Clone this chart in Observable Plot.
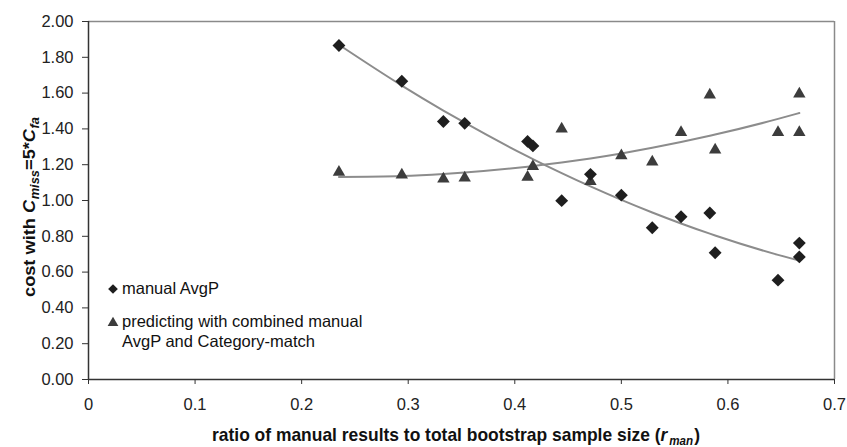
<!DOCTYPE html>
<html>
<head>
<meta charset="utf-8">
<script src="https://cdn.jsdelivr.net/npm/d3@7"></script>
<script src="https://cdn.jsdelivr.net/npm/@observablehq/plot@0.6"></script>
<style>
  html, body { margin: 0; padding: 0; background: #fff; }
  svg { display: block; }
</style>
</head>
<body>
<div id="chart"></div>
<script>
// ---- data ----
const rMan = [0.235, 0.294, 0.333, 0.353, 0.412, 0.417, 0.444, 0.471, 0.5, 0.529, 0.556, 0.583, 0.588, 0.647, 0.667, 0.667];
const manualAvgP = [1.866, 1.666, 1.441, 1.431, 1.330, 1.305, 0.999, 1.146, 1.030, 0.848, 0.909, 0.930, 0.708, 0.555, 0.762, 0.685];
const combined = [1.158, 1.143, 1.120, 1.126, 1.131, 1.190, 1.400, 1.107, 1.250, 1.215, 1.380, 1.590, 1.283, 1.380, 1.595, 1.380];
const seriesNames = ["manual AvgP", "predicting with combined manual AvgP and Category-match"];
const xTicks = [0, 0.1, 0.2, 0.3, 0.4, 0.5, 0.6, 0.7];
const yTicks = [0, 0.2, 0.4, 0.6, 0.8, 1.0, 1.2, 1.4, 1.6, 1.8, 2.0];

const manualRows = rMan.map((x, i) => ({x, y: manualAvgP[i]}));
const combinedRows = rMan.map((x, i) => ({x, y: combined[i]}));

// 2nd-order polynomial trendline (least squares), evaluated at the data's own x values
function quadFit(rows) {
  const S = [0,0,0,0,0], T = [0,0,0];
  for (const {x, y} of rows) {
    for (let k = 0; k < 5; k++) S[k] += Math.pow(x, k);
    for (let k = 0; k < 3; k++) T[k] += y * Math.pow(x, k);
  }
  const A = [[S[0],S[1],S[2],T[0]],[S[1],S[2],S[3],T[1]],[S[2],S[3],S[4],T[2]]];
  for (let i = 0; i < 3; i++) {
    let p = i; for (let r = i+1; r < 3; r++) if (Math.abs(A[r][i]) > Math.abs(A[p][i])) p = r;
    [A[i], A[p]] = [A[p], A[i]];
    for (let r = 0; r < 3; r++) if (r !== i) {
      const f = A[r][i] / A[i][i];
      for (let c = i; c < 4; c++) A[r][c] -= f * A[i][c];
    }
  }
  const c = [A[0][3]/A[0][0], A[1][3]/A[1][1], A[2][3]/A[2][2]];
  const xs = Array.from(new Set(rows.map(d => d.x))).sort((a, b) => a - b);
  return xs.map(x => ({x, y: c[0] + c[1]*x + c[2]*x*x}));
}
const manualTrend = quadFit(manualRows);
const combinedTrend = quadFit(combinedRows);

const FONT = "'Liberation Sans', Arial, Helvetica, sans-serif";

const chart = Plot.plot({
  width: 847,
  height: 447,
  marginLeft: 88,
  marginRight: 13,
  marginTop: 21,
  marginBottom: 68,
  style: {fontFamily: FONT, fontSize: "16.5px", color: "#222", background: "#fff"},
  x: {domain: [0, 0.7]},
  y: {domain: [0, 2]},
  marks: [
    Plot.ruleY([2], {stroke: "#8a8a8a", strokeWidth: 1.5}),
    Plot.ruleX([0.7], {stroke: "#8a8a8a", strokeWidth: 1.5}),
    Plot.ruleX([0], {stroke: "#333", strokeWidth: 1.5}),
    Plot.ruleY([0], {stroke: "#333", strokeWidth: 1.5}),
    Plot.axisY({ticks: yTicks, tickFormat: d3.format(".2f"), tickSize: 6, tickPadding: 9, label: null, fontSize: 16.5, stroke: "#333"}),
    Plot.axisX({ticks: xTicks, tickFormat: d => d === 0 ? "0" : d3.format(".1f")(d), tickSize: 5, tickPadding: 14, label: null, fontSize: 16.5, stroke: "#333"}),
    Plot.line(manualTrend, {x: "x", y: "y", stroke: "#8c8c8c", strokeWidth: 2, curve: "monotone-x"}),
    Plot.line(combinedTrend, {x: "x", y: "y", stroke: "#8c8c8c", strokeWidth: 2, curve: "monotone-x"}),
    Plot.dot(combinedRows, {x: "x", y: "y", symbol: "triangle", r: 4.6, fill: "#3c3c3c", stroke: "none"}),
    Plot.dot(manualRows, {x: "x", y: "y", symbol: "diamond2", r: 5.8, fill: "#1e1e1e", stroke: "none"})
  ]
});

document.getElementById("chart").appendChild(chart);

const svg = d3.select(chart);

// Build a title from separate pieces laid out left to right, then scale to a target width
function pieceTitle(transform, pieces, targetWidth) {
  const g = svg.append("g")
    .attr("font-family", FONT).attr("font-weight", "bold")
    .attr("fill", "#111").attr("text-anchor", "start");
  const inner = g.append("g");
  let x = 0;
  for (const p of pieces) {
    const t = inner.append("text")
      .attr("x", x).attr("y", p.dy || 0)
      .attr("font-size", p.size)
      .attr("font-style", p.italic ? "italic" : "normal")
      .text(p.text);
    x += t.node().getComputedTextLength() + (p.gap || 0);
  }
  const s = targetWidth / x;
  g.attr("transform", transform);
  inner.attr("transform", `scale(${s},1)`);
}

pieceTitle("translate(212,441)", [
  {text: "ratio of manual results to total bootstrap sample size (", size: 18},
  {text: "r", size: 18, italic: true, gap: 2},
  {text: "man", size: 12, italic: true, dy: 4, gap: 1},
  {text: ")", size: 18}
], 488);

pieceTitle("translate(35,297) rotate(-90)", [
  {text: "cost with ", size: 17},
  {text: "C", size: 17, italic: true, gap: 0.5},
  {text: "miss", size: 12, italic: true, dy: 4},
  {text: "=5*", size: 17},
  {text: "C", size: 17, italic: true, gap: 0.5},
  {text: "fa", size: 12, italic: true, dy: 4}
], 180);

// Legend (inside plot area, lower left)
const lg = svg.append("g").attr("font-family", FONT).attr("font-size", 16.5).attr("fill", "#111").attr("text-anchor", "start");
lg.append("path").attr("transform", "translate(113,289)")
  .attr("d", d3.symbol(d3.symbolDiamond2, 60)()).attr("fill", "#1e1e1e");
lg.append("text").attr("x", 122).attr("y", 294).text(seriesNames[0]);
lg.append("path").attr("transform", "translate(113,323)")
  .attr("d", d3.symbol(d3.symbolTriangle, 50)()).attr("fill", "#3c3c3c");
const words = seriesNames[1].split(" ");
lg.append("text").attr("x", 122).attr("y", 327).text(words.slice(0, 4).join(" "));
lg.append("text").attr("x", 122).attr("y", 347).text(words.slice(4).join(" "));
</script>
</body>
</html>
